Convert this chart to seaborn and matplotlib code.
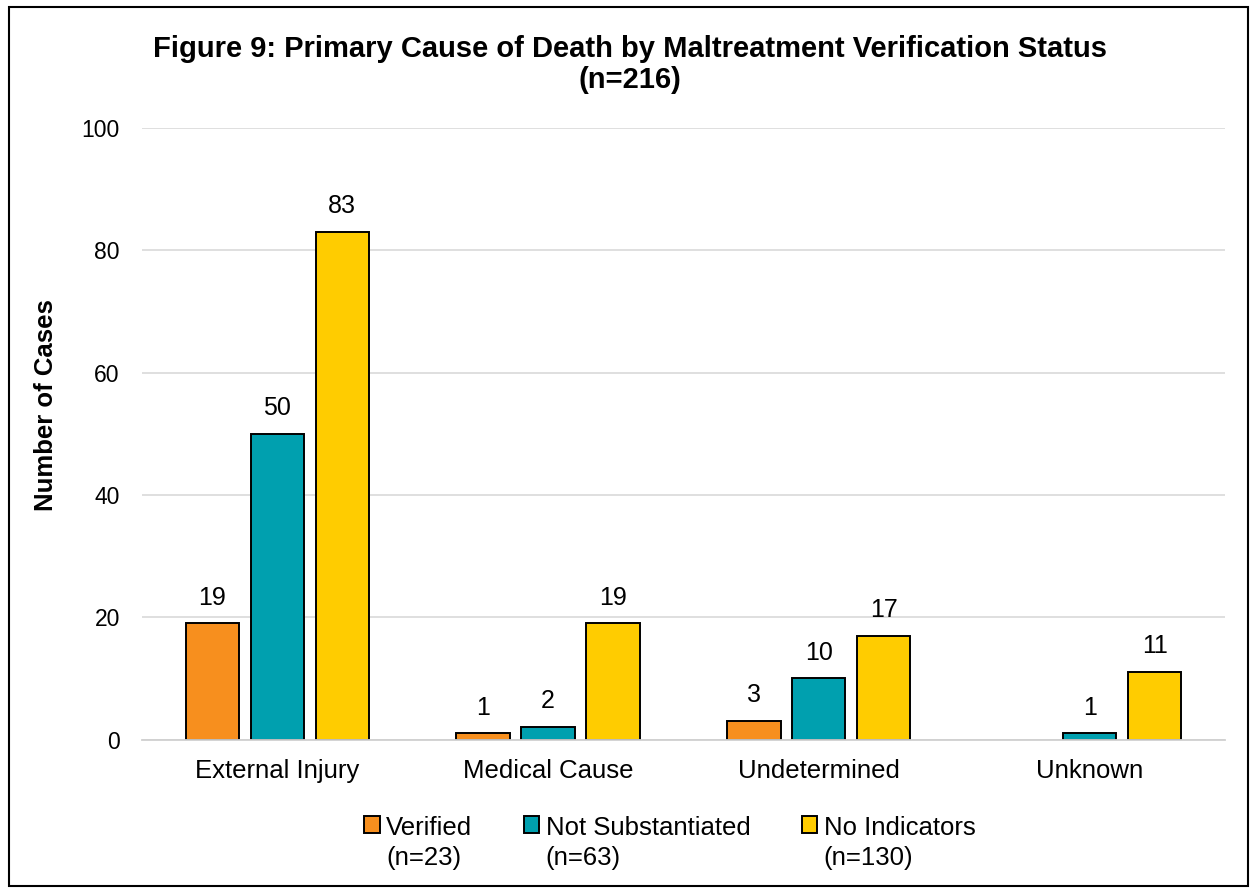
import numpy as np
import pandas as pd
import seaborn as sns
import matplotlib.pyplot as plt
from matplotlib.patches import Patch, Rectangle
from matplotlib.legend_handler import HandlerPatch

causes = ['External Injury', 'Medical Cause', 'Undetermined', 'Unknown']
statuses = ['Verified', 'Not Substantiated', 'No Indicators']
status_labels = ['Verified\n(n=23)', 'Not Substantiated\n(n=63)', 'No Indicators\n(n=130)']
verified = [19, 1, 3, 0]
not_substantiated = [50, 2, 10, 1]
no_indicators = [83, 19, 17, 11]
colors = ['#F78F1E', '#00A0AF', '#FFCC00']

df = pd.DataFrame({
    'cause': causes * 3,
    'status': np.repeat(statuses, len(causes)),
    'count': verified + not_substantiated + no_indicators,
})


class RaisedPatch(HandlerPatch):
    # put the legend square next to the first line of a two-line label
    def create_artists(self, legend, orig_handle, xdescent, ydescent,
                       width, height, fontsize, trans):
        return super().create_artists(legend, orig_handle, xdescent,
                                      ydescent - 0.72 * fontsize, width, height,
                                      fontsize, trans)


sns.set_style('white')
plt.rcParams['font.family'] = ['Liberation Sans', 'DejaVu Sans']
for k in ['text.color', 'axes.labelcolor', 'xtick.color', 'ytick.color']:
    plt.rcParams[k] = 'black'

fig = plt.figure(figsize=(12.52, 8.9), dpi=100)
ax = fig.add_axes([0.1134, 0.169, 0.865, 0.687])

sns.barplot(data=df, x='cause', y='count', hue='status', order=causes,
            hue_order=statuses, palette=colors, saturation=1, width=0.72, gap=0.18,
            edgecolor='black', linewidth=1.4, ax=ax, legend=False)

for cont in ax.containers:
    labels = [f'{v:.0f}' if v > 0 else '' for v in cont.datavalues]
    ax.bar_label(cont, labels=labels, padding=10, fontsize=18)
    for bar, v in zip(cont, cont.datavalues):
        if v == 0:
            bar.set_visible(False)

ax.set_ylim(0, 100)
ax.set_yticks(range(0, 101, 20))
ax.yaxis.grid(True, color='#d9d9d9', linewidth=1.2)
ax.set_axisbelow(True)
for s in ['top', 'right', 'left']:
    ax.spines[s].set_visible(False)
ax.spines['bottom'].set_color('#d0d0d0')
ax.spines['bottom'].set_linewidth(1.3)
ax.tick_params(axis='y', labelsize=16.5, length=0, pad=16)
ax.tick_params(axis='x', labelsize=18.5, length=0, pad=14)
ax.set_xlabel('')
ax.set_ylabel('Number of Cases', fontsize=18.5, fontweight='bold')
ax.yaxis.set_label_coords(-0.078, 0.547)

fig.text(0.503, 1 - 35 / 890,
         'Figure 9: Primary Cause of Death by Maltreatment Verification Status\n(n=216)',
         fontsize=21, fontweight='bold', ha='center', va='top', linespacing=1.12)

handles = [Patch(facecolor=c, edgecolor='black', linewidth=1.4) for c in colors]
leg = fig.legend(handles, status_labels, loc='upper center',
                 bbox_to_anchor=(0.535, 1 - 803 / 890), ncol=3, frameon=False,
                 fontsize=18.5, handlelength=0.6, handleheight=0.6, borderpad=0,
                 handletextpad=0.25, columnspacing=2.0,
                 handler_map={Patch: RaisedPatch()})
for t in leg.get_texts():
    t.set_linespacing(1.3)

fig.patches.append(Rectangle((0.007, 0.005), 0.99, 0.987, transform=fig.transFigure,
                             fill=False, edgecolor='black', linewidth=1.5))

fig.savefig('out.png', dpi=100)
